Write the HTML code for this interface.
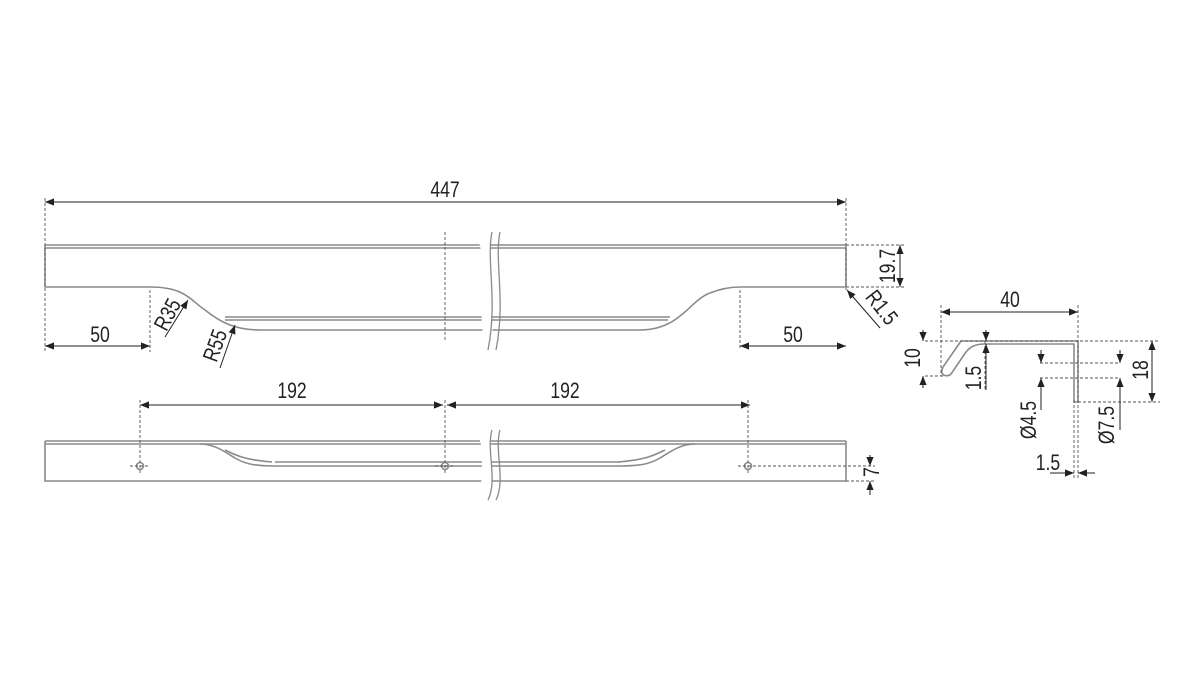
<!DOCTYPE html>
<html><head><meta charset="utf-8"><style>
html,body{margin:0;padding:0;background:#fff;}
svg{display:block;}
text{font-family:"Liberation Sans",sans-serif;fill:#222;font-size:22px;}
</style></head><body>
<svg width="1200" height="675" viewBox="0 0 1200 675" xmlns="http://www.w3.org/2000/svg">
<defs>
<marker id="a" viewBox="0 0 10 10" refX="10" refY="5" markerWidth="9" markerHeight="9" orient="auto-start-reverse" markerUnits="userSpaceOnUse"><path d="M0,1 L10,5 L0,9 z" fill="#222"/></marker>
</defs>
<rect width="1200" height="675" fill="#fff"/>
<g fill="none" stroke="#8a8a8a" stroke-width="1.6">
<path d="M45,245 H846 M45,248 H846"/>
<path d="M45,245 V287 H150 C185,287 190,300 205,310 C220,322 235,330 260,330 H640 C680,330 690,300 710,293 C720,289 730,287 740,287 H846 V246"/>
<path d="M225,317 H670 M225,320 H668"/>
<path d="M45,441 H846 M45,444 H846 M45,441 V481 H846 V441"/>
<path d="M200,444 C215,444 225,452 235,458 C245,464 255,466 275,466 H620 C640,466 650,464 660,458 C670,452 680,444 695,444"/>
<path d="M225,450 C235,455 245,460 272,462 M665,450 C655,455 645,460 618,462"/>
<path d="M275,462 H620"/>
<circle cx="140" cy="466" r="3.5"/><circle cx="445" cy="466" r="3.5"/><circle cx="748" cy="466" r="3.5"/>
<path d="M961,341 H1078 V402 H1074 V344 H985 C975,344 970,347 966,352 L951,374 C949,376 944,377 942,373 C941,371 942,369 943,367 L961,341"/>
</g>
<g fill="none" stroke="#fff" stroke-width="10">
<path d="M480,232 C495,260 480,290 490,350 M480,430 C495,450 480,480 490,500"/>
</g>
<g fill="none" stroke="#8a8a8a" stroke-width="1.3">
<path d="M492,232 C486,260 498,300 488,350 M500,232 C494,260 506,300 496,350"/>
<path d="M492,430 C486,450 498,480 488,500 M500,430 C494,450 506,480 496,500"/>
</g>
<g fill="none" stroke="#555" stroke-width="0.9" stroke-dasharray="3,2">
<path d="M45,198 V352 M846,198 V290 M150,290 V352 M740,290 V350 M445,232 V340"/>
<path d="M846,245 H905 M846,287 H905"/>
<path d="M140,400 V475 M445,400 V475 M748,400 V475 M130,466 H150 M435,466 H455 M738,466 H875 M846,481 H875"/>
<path d="M941,305 V376 M1078,305 V480 M1074,400 V480 M925,341 H1160 M925,376 H945 M985,341 V390 M1040,363 H1120 M1040,378 H1120 M1078,402 H1160"/>
</g>
<g stroke="#222" stroke-width="1" fill="none" marker-start="url(#a)" marker-end="url(#a)">
<path d="M45,202 H846"/>
<path d="M45,346 H150"/><path d="M740,346 H846"/>
<path d="M900,245 V287"/>
<path d="M140,405 H443"/><path d="M447,405 H750"/>
<path d="M941,312 H1078"/>
<path d="M1152,341 V402"/>
</g>
<g stroke="#222" stroke-width="1" fill="none" marker-end="url(#a)">
<path d="M880,328 L847,290"/>
<path d="M165,337 L188,300"/>
<path d="M220,368 L235,325"/>
<path d="M870,455 V466"/><path d="M870,495 V481"/>
<path d="M923,330 V341"/><path d="M923,388 V376"/>
<path d="M986,330 V341"/><path d="M986,390 V344"/>
<path d="M1041,350 V363"/><path d="M1041,410 V378"/>
<path d="M1120,350 V363"/><path d="M1120,430 V378"/>
<path d="M1050,473 H1074"/><path d="M1095,473 H1078"/>
</g>
<g text-anchor="middle">
<text transform="translate(445,197) scale(0.8,1)">447</text>
<text transform="translate(100,342) scale(0.8,1)">50</text>
<text transform="translate(793,342) scale(0.8,1)">50</text>
<text transform="translate(292,398) scale(0.8,1)">192</text>
<text transform="translate(565,398) scale(0.8,1)">192</text>
<text transform="translate(1010,307) scale(0.8,1)">40</text>
<text transform="translate(1048,470) scale(0.8,1)">1.5</text>
<text transform="translate(895,266) rotate(-90) scale(0.8,1)">19.7</text>
<text transform="translate(876,312) rotate(52) scale(0.8,1)">R1.5</text>
<text transform="translate(174,318) rotate(-62) scale(0.8,1)">R35</text>
<text transform="translate(222,348) rotate(-70) scale(0.8,1)">R55</text>
<text transform="translate(879,472) rotate(-90) scale(0.8,1)">7</text>
<text transform="translate(1148,370) rotate(-90) scale(0.8,1)">18</text>
<text transform="translate(920,358) rotate(-90) scale(0.8,1)">10</text>
<text transform="translate(981,378) rotate(-90) scale(0.8,1)">1.5</text>
<text transform="translate(1036,420) rotate(-90) scale(0.8,1)">Ø4.5</text>
<text transform="translate(1114,425) rotate(-90) scale(0.8,1)">Ø7.5</text>
</g>
</svg>
</body></html>
